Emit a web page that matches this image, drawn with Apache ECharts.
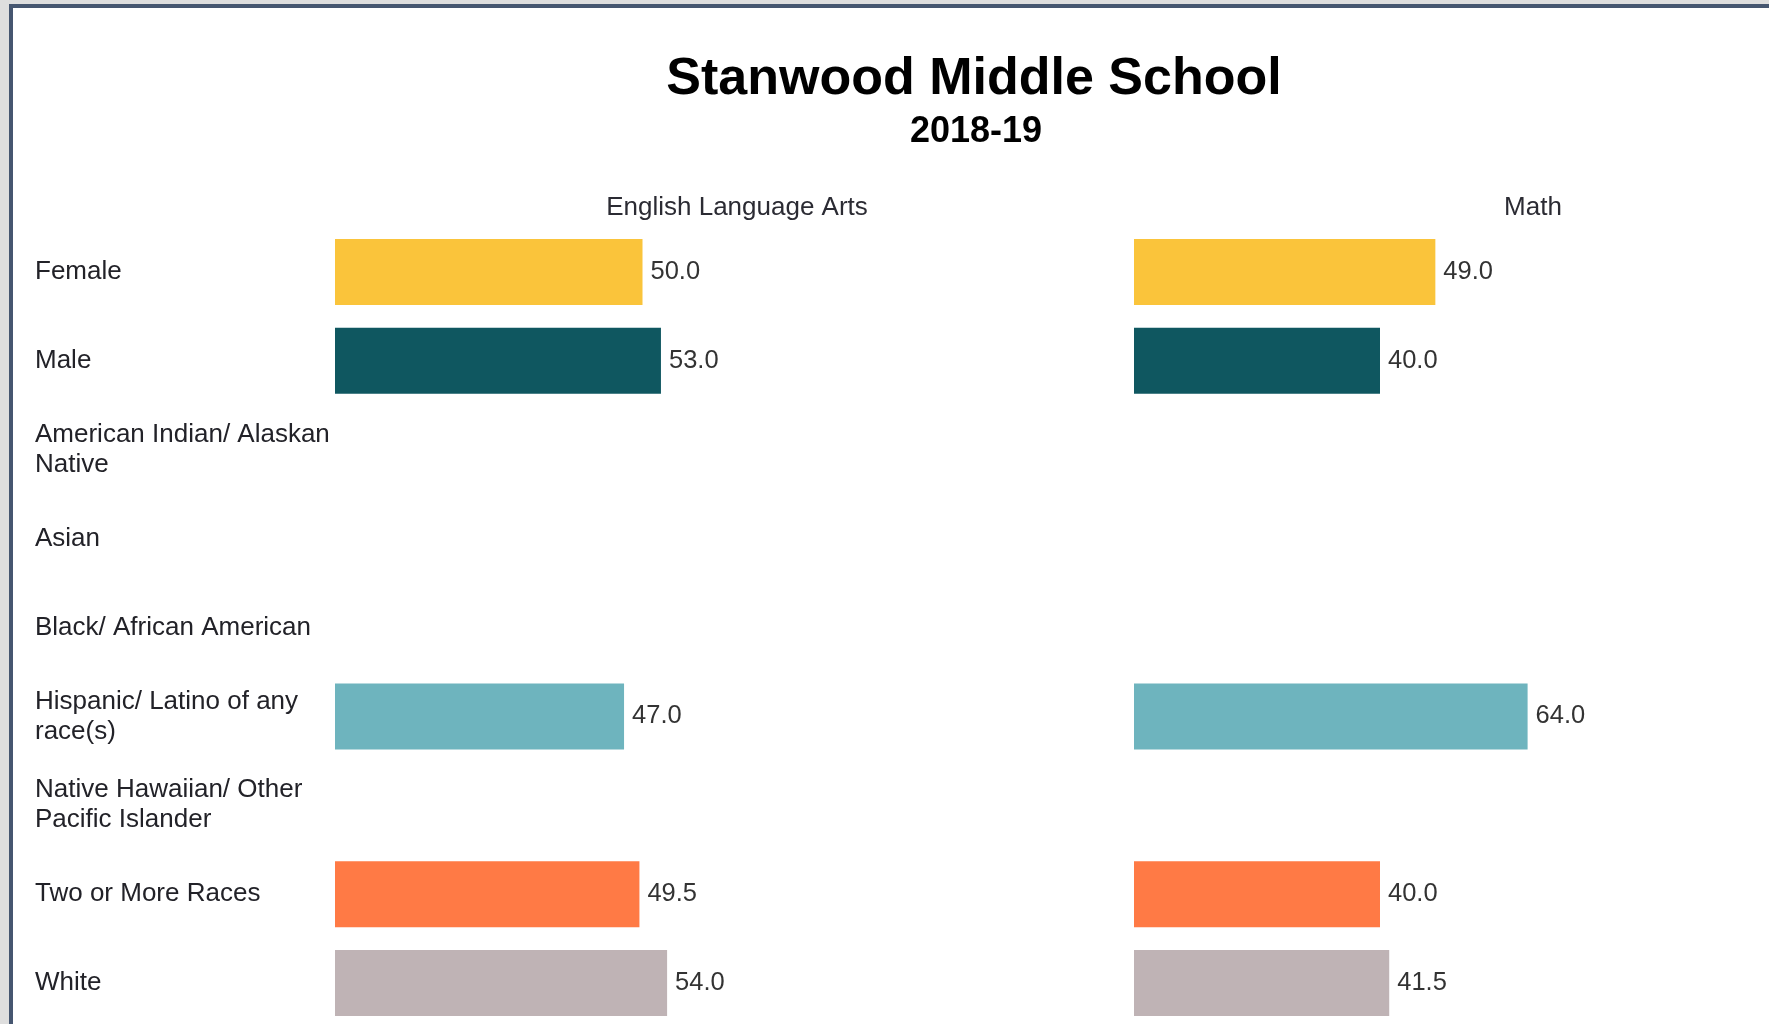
<!DOCTYPE html>
<html>
<head>
<meta charset="utf-8">
<script src="https://cdn.jsdelivr.net/npm/echarts@6/dist/echarts.min.js"></script>
<style>
  html, body { margin: 0; padding: 0; width: 1769px; height: 1024px; overflow: hidden; background: #dedede; }
  #frame { position: absolute; left: 9px; top: 4px; width: 1800px; height: 1100px; border: 4px solid #465670; background: #ffffff; }
  #chart { position: absolute; left: 0; top: 0; width: 1769px; height: 1100px; }
</style>
</head>
<body>
<div id="frame"></div>
<div id="chart"></div>
<script>
const categories = [
  'Female',
  'Male',
  'American Indian/ Alaskan\nNative',
  'Asian',
  'Black/ African American',
  'Hispanic/ Latino of any\nrace(s)',
  'Native Hawaiian/ Other\nPacific Islander',
  'Two or More Races',
  'White'
];
const elaValues  = [50.0, 53.0, null, null, null, 47.0, null, 49.5, 54.0];
const mathValues = [49.0, 40.0, null, null, null, 64.0, null, 40.0, 41.5];
const barColors  = ['#FAC43B', '#0F5760', null, null, null, '#6EB4BE', null, '#FF7A45', '#BFB3B5'];
const panelTitles = ['English Language Arts', 'Math'];
const chartTitle = 'Stanwood Middle School';
const chartSubtitle = '2018-19';

const font = 'Arial, "Liberation Sans", sans-serif';

function toData(vals) {
  return vals.map((v, i) => v == null ? '-' : { value: v, itemStyle: { color: barColors[i] } });
}

const chart = echarts.init(document.getElementById('chart'), null, { renderer: 'canvas' });

const gridTop = 227.5, gridHeight = 800, gridWidth = 615;

const option = {
  animation: false,
  backgroundColor: 'transparent',
  graphic: [
    { type: 'text', x: 974, y: 80, style: { text: chartTitle, font: 'bold 52px ' + font, fill: '#000000', textAlign: 'center', textVerticalAlign: 'middle' } },
    { type: 'text', x: 976, y: 132, style: { text: chartSubtitle, font: 'bold 36px ' + font, fill: '#000000', textAlign: 'center', textVerticalAlign: 'middle' } },
    { type: 'text', x: 737, y: 208, style: { text: panelTitles[0], font: '26px ' + font, fill: '#2b2b33', textAlign: 'center', textVerticalAlign: 'middle' } },
    { type: 'text', x: 1533, y: 208, style: { text: panelTitles[1], font: '26px ' + font, fill: '#2b2b33', textAlign: 'center', textVerticalAlign: 'middle' } }
  ],
  grid: [
    { left: 335, top: gridTop, width: gridWidth, height: gridHeight },
    { left: 1134, top: gridTop, width: gridWidth, height: gridHeight }
  ],
  xAxis: [
    { type: 'value', gridIndex: 0, min: 0, max: 100, show: false },
    { type: 'value', gridIndex: 1, min: 0, max: 100, show: false }
  ],
  yAxis: [
    {
      type: 'category', gridIndex: 0, data: categories, inverse: true,
      axisLine: { show: false }, axisTick: { show: false }, splitLine: { show: false },
      axisLabel: { show: true, align: 'left', margin: 300, color: '#222228', fontSize: 26, fontFamily: font, lineHeight: 30 }
    },
    {
      type: 'category', gridIndex: 1, data: categories, inverse: true,
      axisLine: { show: false }, axisTick: { show: false }, splitLine: { show: false },
      axisLabel: { show: false }
    }
  ],
  series: [
    {
      type: 'bar', xAxisIndex: 0, yAxisIndex: 0, data: toData(elaValues), barWidth: 66,
      label: { show: true, position: 'right', distance: 8, color: '#333333', fontSize: 25.5, fontFamily: font,
        formatter: p => Number(p.value).toFixed(1) }
    },
    {
      type: 'bar', xAxisIndex: 1, yAxisIndex: 1, data: toData(mathValues), barWidth: 66,
      label: { show: true, position: 'right', distance: 8, color: '#333333', fontSize: 25.5, fontFamily: font,
        formatter: p => Number(p.value).toFixed(1) }
    }
  ]
};

chart.setOption(option);
</script>
</body>
</html>
